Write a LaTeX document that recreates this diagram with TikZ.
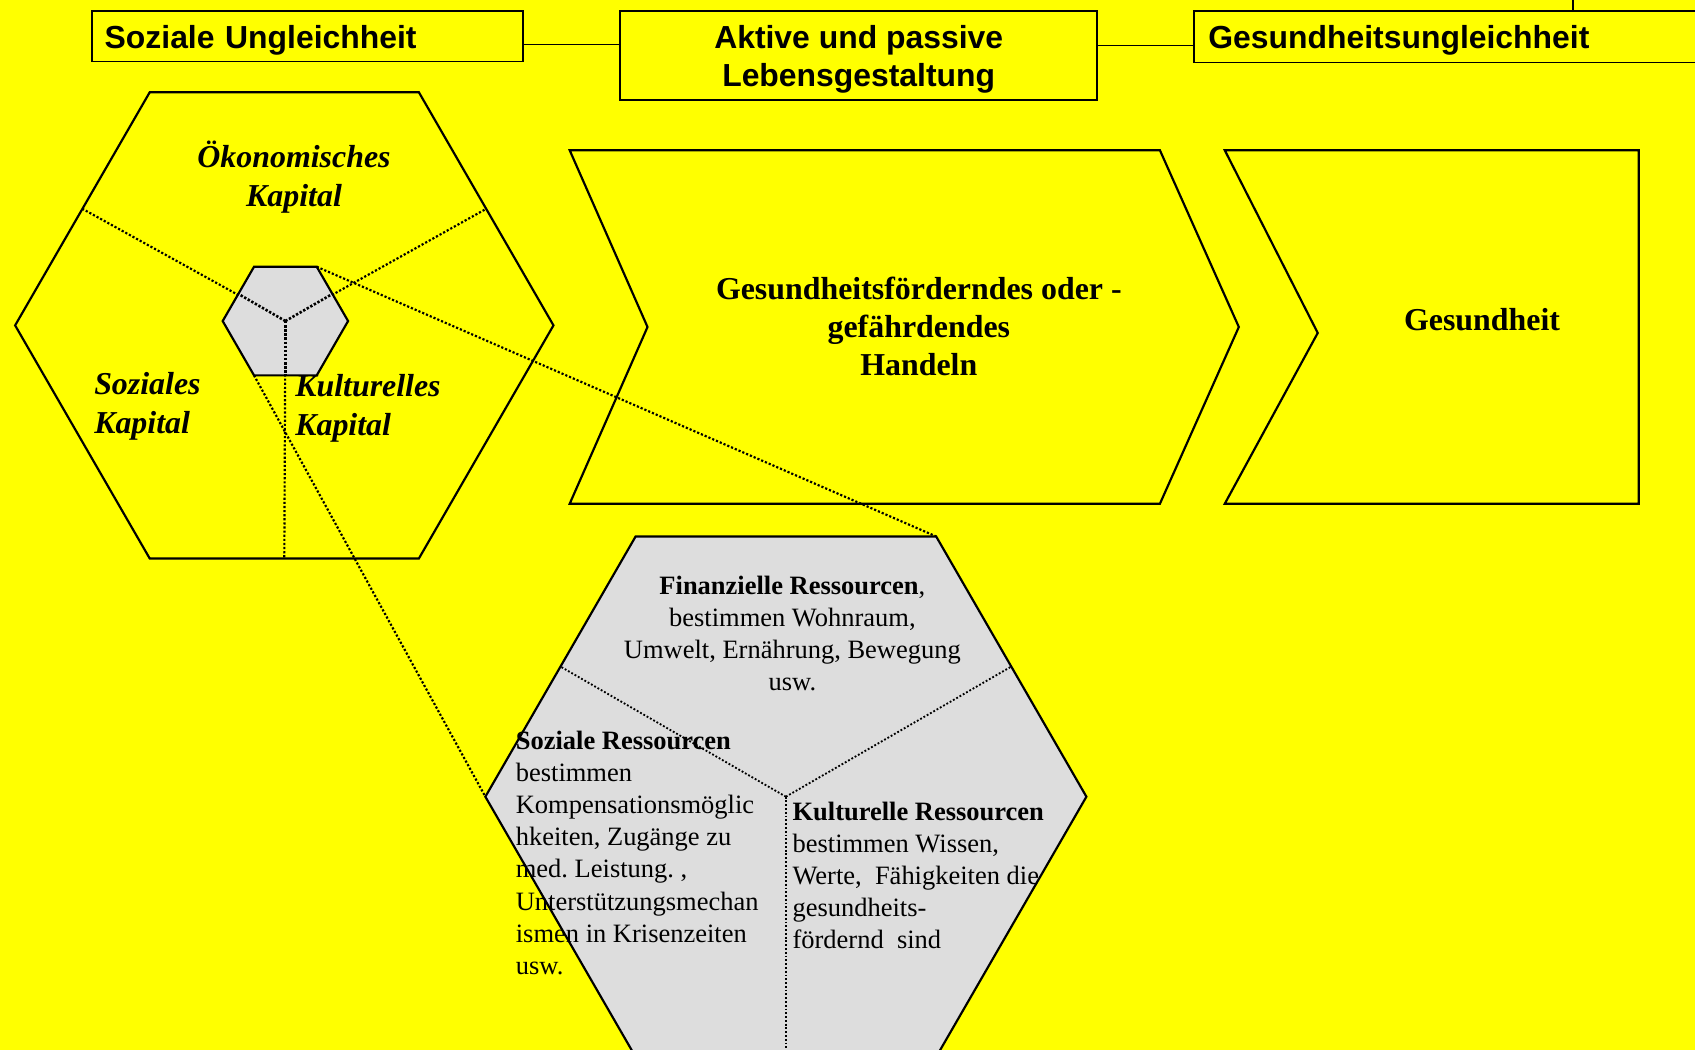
\documentclass[tikz,border=0pt]{standalone}
\usepackage{fontspec}
\setmainfont{Liberation Serif}
\newfontfamily\sansfam{Liberation Sans}
\usetikzlibrary{calc}
\definecolor{yel}{HTML}{FFFF00}
\definecolor{hexgray}{HTML}{DDDDDD}
\frenchspacing
\begin{document}
\begin{tikzpicture}[x=1pt,y=-1pt,
  titlebox/.style={draw, line width=1.7pt, fill=yel, inner sep=0pt,
    font=\sansfam\bfseries\fontsize{29.5}{35}\selectfont},
  conn/.style={line width=1.5pt},
  outline/.style={draw, line width=2pt, line join=miter},
  biglabel/.style={font=\bfseries\fontsize{29.5}{35}\selectfont, align=center, inner sep=0pt},
  caplabel/.style={font=\bfseries\itshape\fontsize{29.5}{36}\selectfont, inner sep=0pt},
  restext/.style={font=\fontsize{24.5}{29.7}\selectfont, inner sep=0pt},
  dotline/.style={line width=2pt, dash pattern=on 2pt off 1.8pt},
  hubline/.style={line width=2.4pt, dash pattern=on 2.2pt off 1.6pt},
  resdot/.style={line width=1.7pt, dash pattern=on 1.7pt off 1.8pt}]
\useasboundingbox (0,0) rectangle (1568,971);
\clip (0,0) rectangle (1568,971);
\fill[yel] (0,0) rectangle (1568,971);

% centres
\coordinate (C1) at (263,301);
\coordinate (C2) at (264,297);
\coordinate (C3) at (727,737);

% title boxes
\node[titlebox, anchor=north west, minimum height=47pt, text width=375pt,
  inner xsep=12pt, align=left] (b1) at (84,9) {\rule{0pt}{29pt}Soziale Ungleichheit};
\node[titlebox, anchor=north west, minimum width=441pt, minimum height=83pt,
  align=center] (b2) at (573,9) {\rule{0pt}{29pt}Aktive und passive\\Lebensgestaltung};
\node[titlebox, anchor=north west, minimum height=48pt, text width=470pt,
  inner xsep=13pt, align=left] (b3) at (1104,9) {\rule{0pt}{29pt}Gesundheitsungleichheit};
\coordinate (topend) at (1455,0);
\draw[conn] (b1.east |- 0,41) -- (b2.west |- 0,41);
\draw[conn] (b2.east |- 0,42) -- (b3.west |- 0,42);
\draw[conn] (b3.north -| topend) -- (topend);

% big hexagon
\draw[outline, fill=yel] ($(C1)+(0:249)$) -- ($(C1)+(60:249)$) -- ($(C1)+(120:249)$)
  -- ($(C1)+(180:249)$) -- ($(C1)+(240:249)$) -- ($(C1)+(300:249)$) -- cycle;
\draw[dotline] (C2) -- ($(C1)+(210:215.6)$);
\draw[dotline] (C2) -- ($(C1)+(330:215.6)$);
\draw[dotline] (C2) -- ($(C1)+(90:215.6)$);

% chevrons
\draw[outline, fill=yel] (527,139) -- (1073,139) -- (1146,302.5) -- (1073,466)
  -- (527,466) -- (599,302.5) -- cycle;
\draw[outline, fill=yel] (1133,139) -- (1516,139) -- (1516,466) -- (1133,466)
  -- (1219,308) -- cycle;

% small hexagon
\draw[outline, fill=hexgray] ($(C2)+(0:58)$) -- ($(C2)+(60:58)$) -- ($(C2)+(120:58)$)
  -- ($(C2)+(180:58)$) -- ($(C2)+(240:58)$) -- ($(C2)+(300:58)$) -- cycle;
\draw[hubline] (C2) -- ($(C2)+(210:50)$);
\draw[hubline] (C2) -- ($(C2)+(330:50)$);
\draw[hubline] (C2) -- ($(C2)+(90:50)$);

\coordinate (s-tr) at ($(C2)+(300:58)$);
\coordinate (s-bl) at ($(C2)+(120:58)$);
\coordinate (g-tr) at ($(C3)+(300:278)$);
\coordinate (g-l) at ($(C3)+(180:278)$);
\draw[dotline] (s-tr) -- (g-tr);
\draw[dotline] (s-bl) -- (g-l);

% gray hexagon
\draw[outline, fill=hexgray] ($(C3)+(0:278)$) -- ($(C3)+(60:278)$) -- ($(C3)+(120:278)$)
  -- ($(C3)+(180:278)$) -- ($(C3)+(240:278)$) -- ($(C3)+(300:278)$) -- cycle;
\draw[resdot] (C3) -- ($(C3)+(210:240.8)$);
\draw[resdot] (C3) -- ($(C3)+(330:240.8)$);
\draw[resdot] (C3) -- ($(C3)+(90:240.8)$);

% labels
\node[caplabel, align=center] (oek) at (272,164) {Ökonomisches\\Kapital};
\node[caplabel, align=left, anchor=west] (soz) at (87,376) {Soziales\\Kapital};
\node[caplabel, align=left, anchor=west] (kul) at (273,378) {Kulturelles\\Kapital};

\node[biglabel] (hand) at (850,302) {Gesundheitsförderndes oder -\\gefährdendes\\Handeln};
\node[biglabel] (ges) at (1371,296) {Gesundheit};

\node[restext, align=center] (fin) at (733,586)
  {\textbf{Finanzielle Ressourcen},\\bestimmen Wohnraum,\\Umwelt, Ernährung, Bewegung\\usw.};
\node[restext, align=left, anchor=west] (sozr) at (477,789)
  {\textbf{Soziale Ressourcen}\\bestimmen\\Kompensationsmöglic\\hkeiten, Zugänge zu\\med. Leistung. ,\\Unterstützungsmechan\\ismen in Krisenzeiten\\usw.};
\node[restext, align=left, anchor=west] (kulr) at (733,810)
  {\textbf{Kulturelle Ressourcen}\\bestimmen Wissen,\\Werte,\ \ Fähigkeiten die\\gesundheits-\\fördernd\ \ sind};
\end{tikzpicture}
\end{document}
